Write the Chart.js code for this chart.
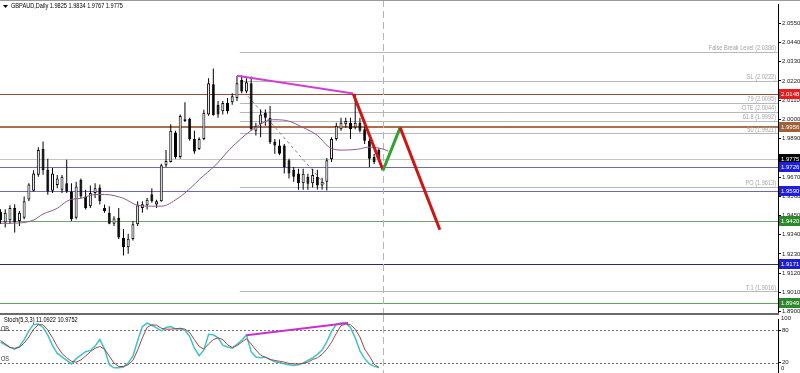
<!DOCTYPE html>
<html>
<head>
<meta charset="utf-8">
<script src="https://cdn.jsdelivr.net/npm/chart.js@4.4.0/dist/chart.umd.min.js"></script>
<style>
html,body{margin:0;padding:0;background:#fff;overflow:hidden}
#wrap{position:relative;width:800px;height:373px;overflow:hidden;background:#fff}
#main{position:absolute;left:0;top:0}
#sep{position:absolute;left:0;top:313px;width:779px;height:2px;background:#6a6a6a}
#stoch{position:absolute;left:0;top:315px}
</style>
</head>
<body>
<div id="wrap">
  <canvas id="main" width="800" height="317"></canvas>
  <div id="sep"></div>
  <canvas id="stoch" width="800" height="63"></canvas>
</div>
<script>
// GBPAUD daily candles (bar 0 = leftmost)
var candleOpen  = [1.9471,1.9409,1.9422,1.9493,1.9418,1.9437,1.9542,1.9591,1.9683,1.9831,
                   1.9711,1.9591,1.9625,1.9597,1.9634,1.9587,1.9437,1.9655,1.9559,1.9503,
                   1.9578,1.9610,1.9493,1.9465,1.9403,1.9437,1.9321,1.9268,1.9315,1.9400,
                   1.9493,1.9508,1.9572,1.9512,1.9531,1.9737,1.9756,1.9925,1.9784,2.0000,
                   2.0004,1.9887,1.9831,1.9887,2.0028,2.0201,2.0084,2.0047,2.0094,2.0098,
                   2.0122,2.0225,2.0160,2.0207,1.9935,1.9972,2.0038,2.0009,1.9874,1.9850,
                   1.9850,1.9766,1.9711,1.9690,1.9634,1.9672,1.9634,1.9672,1.9621,1.9643,
                   1.9771,1.9887,1.9944,1.9972,1.9981,1.9953,1.9981,1.9944,1.9878,1.9784,1.9825]
var candleHigh  = [1.9486,1.9486,1.9508,1.9514,1.9475,1.9559,1.9634,1.9709,1.9841,1.9874,
                   1.9775,1.9722,1.9681,1.9681,1.9769,1.9634,1.9643,1.9662,1.9597,1.9621,
                   1.9634,1.9627,1.9512,1.9503,1.9446,1.9493,1.9373,1.9345,1.9418,1.9531,
                   1.9531,1.9550,1.9606,1.9540,1.9746,1.9824,1.9972,1.9935,2.0028,2.0098,
                   2.0009,1.9935,1.9897,2.0055,2.0235,2.0291,2.0105,2.0105,2.0122,2.0150,
                   2.0248,2.0252,2.0235,2.0246,1.9981,2.0056,2.0056,2.0077,1.9887,1.9885,
                   1.9859,1.9775,1.9728,1.9718,1.9718,1.9688,1.9718,1.9711,1.9666,1.9779,
                   1.9897,1.9981,2.0009,2.0009,2.0009,2.0141,2.0009,1.9964,1.9887,1.9803,1.9834]
var candleLow   = [1.9401,1.9381,1.9401,1.9352,1.9390,1.9428,1.9531,1.9587,1.9672,1.9683,
                   1.9569,1.9578,1.9606,1.9578,1.9578,1.9418,1.9428,1.9550,1.9484,1.9493,
                   1.9550,1.9512,1.9465,1.9400,1.9390,1.9315,1.9221,1.9231,1.9306,1.9390,
                   1.9465,1.9484,1.9522,1.9493,1.9528,1.9728,1.9753,1.9775,1.9775,1.9985,
                   1.9878,1.9803,1.9824,1.9880,2.0021,2.0021,2.0009,2.0028,2.0032,2.0083,
                   2.0105,2.0150,2.0150,1.9935,1.9908,1.9897,1.9964,1.9859,1.9803,1.9795,
                   1.9690,1.9662,1.9643,1.9597,1.9597,1.9597,1.9610,1.9598,1.9597,1.9593,
                   1.9756,1.9878,1.9935,1.9953,1.9887,1.9944,1.9925,1.9859,1.9728,1.9745,1.9767]
var candleClose = [1.9422,1.9465,1.9493,1.9409,1.9465,1.9531,1.9627,1.9690,1.9824,1.9709,
                   1.9587,1.9690,1.9662,1.9672,1.9587,1.9428,1.9615,1.9559,1.9493,1.9578,
                   1.9606,1.9531,1.9475,1.9403,1.9433,1.9324,1.9268,1.9317,1.9400,1.9508,
                   1.9514,1.9540,1.9531,1.9531,1.9737,1.9762,1.9935,1.9784,2.0019,1.9991,
                   1.9887,1.9816,1.9887,2.0038,2.0207,2.0025,2.0028,2.0094,2.0047,2.0132,
                   2.0207,2.0160,2.0212,1.9944,1.9963,2.0028,2.0009,1.9869,1.9850,1.9803,
                   1.9728,1.9690,1.9672,1.9634,1.9688,1.9632,1.9681,1.9621,1.9643,1.9766,
                   1.9887,1.9963,1.9981,1.9991,1.9944,1.9981,1.9935,1.9878,1.9775,1.9756,1.9775]

// moving average, sampled where it could be read
var maBar   = [0,4,7,9,12,14,15,17,20,22,26,29,32,34,37.5,40.5,42,45.5,48.5,53,57.5,60.5,64,67,69.5,72,75.5,78,81,82]
var maPrice = [1.9405,1.9407,1.9424,1.9458,1.9491,1.9531,1.9542,1.9548,1.9570,1.9570,1.9548,1.9508,1.9503,1.9503,1.9548,
               1.9615,1.9655,1.9739,1.9829,1.9936,1.9998,1.9993,1.9953,1.9908,1.9841,1.9824,1.9829,1.9841,1.9829,1.9818]

// Stoch(5,3,3)
var stochK = [58.0,53.2,48.4,45.1,50.0,62.9,79.0,91.1,91.9,85.5,
              71.0,51.6,37.1,30.6,24.1,17.7,27.4,33.8,40.3,42.7,
              50.8,62.9,45.1,16.1,10.4,10.4,12.0,19.3,32.2,61.3,
              87.1,93.5,89.5,84.7,79.0,85.5,87.1,82.7,82.7,80.1,
              68.5,46.7,33.0,43.5,72.6,71.8,66.1,52.4,49.2,46.7,
              54.0,61.3,71.8,40.3,30.6,29.0,30.6,26.2,21.7,20.1,
              17.7,16.1,14.5,16.1,19.3,24.1,29.0,35.4,43.5,58.8,
              78.2,91.1,93.5,93.5,85.5,66.1,41.9,27.4,17.7,13.0,11.1]
var stochD = [61.3,54.8,48.4,46.7,48.4,56.4,67.7,82.2,90.3,90.3,
              80.6,66.1,50.0,37.1,29.0,22.5,20.9,25.0,32.2,40.3,
              46.7,50.0,45.1,32.2,19.3,12.8,12.8,16.1,24.1,43.5,
              66.1,85.5,90.3,89.5,83.9,82.2,82.2,83.1,83.9,82.2,
              75.8,62.9,50.0,45.1,54.8,62.9,66.1,62.9,53.2,48.4,
              51.6,58.0,64.5,54.8,43.5,33.8,29.8,25.8,24.1,22.5,
              20.9,18.5,17.7,17.7,18.5,20.9,25.8,29.0,35.4,45.1,
              58.0,74.2,88.7,91.9,90.3,82.2,67.7,45.1,32.2,17.0,11.0]

var priceTicks = [2.0550,2.0440,2.0330,2.0220,2.0110,2.0000,1.9890,1.9780,1.9670,1.9560,1.9450,1.9340,1.9230,1.9120,1.9010,1.8900]
var stochTicks = [80, 20]

// horizontal lines across the whole chart
var lineLevels = [2.0148, 1.9956, 1.9775, 1.9726, 1.9590, 1.9420, 1.9171, 1.8949]
// fibonacci levels (start at fibStartBar)
var fibNames  = ['False Break Level','SL','79','OTE','61.8','50','PO','T.1']
var fibLevels = [2.0386, 2.0222, 2.0095, 2.0044, 1.9992, 1.9921, 1.9613, 1.9016]
var fibStartBar = 50.6
var fibDiagBar = [52.3, 69.0], fibDiagPrice = [2.0133, 1.9615]

// drawn lines
var divBar = [50.0, 74.6], divPrice = [2.0250, 2.0148]
var projBar = [74.6, 80.9, 84.5, 92.9], projPrice = [2.0145, 1.9709, 1.9953, 1.9368]
var stochDivBar = [52.0, 73.5], stochDivValue = [71.0, 93.6]
var shiftBar = 80.8

var headText = 'GBPAUD,Daily 1.9825 1.9834 1.9767 1.9775'
var stochText = 'Stoch(5,3,3) 11.0922 10.9752'

// styles
var lineColors = ['#9b4a3c','#a8704c','#c4c4c4','#6d6dae','#6a6ab4','#6aa86a','#2a2a6a','#5ea65e']
var lineWidths = [1,2,1,1,1,1,1,1]
var boxColors  = ['#e81c1c','#a0603a','#000000','#1e1ee0','#1e1ee0','#2a8a2a','#1e1ed0','#2a8a2a']

var X_MIN = -0.106, X_MAX = 164.4
var FONT = "'Liberation Sans',Arial,sans-serif"
Chart.defaults.font.family = FONT

function pts(xs, ys){ return xs.map(function(v,i){ return {x:v, y:ys[i]} }) }

var bodies = candleOpen.map(function(o,i){ return {x:i, y:[o, candleClose[i]]} })
var wicks = candleHigh.map(function(h,i){ return {x:i, y:[candleLow[i], h]} })

function hline(ctx, x1, x2, y, color, w, dash){
    ctx.save()
    ctx.strokeStyle = color
    ctx.lineWidth = w
    ctx.setLineDash(dash || [])
    var yy = w % 2 ? Math.round(y) + 0.5 : Math.round(y)
    ctx.beginPath(); ctx.moveTo(x1, yy); ctx.lineTo(x2, yy); ctx.stroke()
    ctx.restore()
}
function vline(chart){
    var ctx = chart.ctx
    var px = Math.round(chart.scales.x.getPixelForValue(shiftBar)) + 0.5
    ctx.save()
    ctx.strokeStyle = '#b8b89c'
    ctx.setLineDash([7,4])
    ctx.beginPath(); ctx.moveTo(px, 0); ctx.lineTo(px, chart.height); ctx.stroke()
    ctx.restore()
}
// narrow text: 7px font squeezed horizontally
function narrowText(ctx, s, x, y, align){
    ctx.save()
    ctx.font = '7px ' + FONT
    ctx.textAlign = align || 'left'
    ctx.translate(x, y)
    ctx.scale(0.8, 1)
    ctx.fillText(s, 0, 0)
    ctx.restore()
}

var mainDeco = {
    id: 'mainDeco',
    beforeDatasetsDraw: function(chart){
        var ctx = chart.ctx, a = chart.chartArea, x = chart.scales.x, y = chart.scales.y
        var fx = x.getPixelForValue(fibStartBar)
        fibLevels.forEach(function(v){ hline(ctx, fx, a.right, y.getPixelForValue(v), '#b8b8b8', 1) })
        lineLevels.forEach(function(v,i){ hline(ctx, a.left, a.right, y.getPixelForValue(v), lineColors[i], lineWidths[i]) })
        vline(chart)
    },
    afterDraw: function(chart){
        var ctx = chart.ctx, a = chart.chartArea, y = chart.scales.y
        ctx.save()
        // fib labels
        ctx.fillStyle = '#a4a4a4'
        ctx.textBaseline = 'bottom'
        fibLevels.forEach(function(v,i){
            narrowText(ctx, fibNames[i] + ' (' + v.toFixed(4) + ')', a.right - 2, y.getPixelForValue(v), 'right')
        })
        // price boxes on the axis
        ctx.font = '6px ' + FONT
        ctx.textAlign = 'left'
        ctx.textBaseline = 'middle'
        lineLevels.forEach(function(v,i){
            var py = Math.round(y.getPixelForValue(v))
            ctx.fillStyle = boxColors[i]
            ctx.fillRect(a.right + 1, py - 5, 22, 10)
            ctx.fillStyle = '#fff'
            ctx.fillText(v.toFixed(4), a.right + 3, py + 0.5)
        })
        // header
        ctx.fillStyle = '#000'
        ctx.beginPath(); ctx.moveTo(3,5); ctx.lineTo(8,5); ctx.lineTo(5.5,8); ctx.closePath(); ctx.fill()
        ctx.textBaseline = 'middle'
        narrowText(ctx, headText, 11, 6.5)
        // top frame
        ctx.fillStyle = '#9a9a9a'
        ctx.fillRect(0, 0, 800, 1)
        ctx.restore()
    }
}

new Chart(document.getElementById('main'), {
    type: 'bar',
    data: {
        datasets: [{
            type: 'line',
            data: pts(projBar, projPrice),
            borderColor: '#d01414',
            segment: { borderColor: function(c){ return c.p0DataIndex === 1 ? '#2ea52e' : '#d01414' } },
            borderWidth: 3,
            pointRadius: 0,
            order: 0
        }, {
            type: 'line',
            data: pts(divBar, divPrice),
            borderColor: '#d040d0',
            borderWidth: 2,
            pointRadius: 0,
            order: 1
        }, {
            type: 'line',
            data: pts(maBar, maPrice),
            borderColor: '#8c5c8c',
            borderWidth: 1,
            pointRadius: 0,
            cubicInterpolationMode: 'monotone',
            order: 2
        }, {
            data: bodies,
            grouped: false,
            barThickness: 3,
            backgroundColor: function(c){ return c.raw && c.raw.y[1] >= c.raw.y[0] ? '#ffffff' : '#000000' },
            borderColor: '#000',
            borderWidth: 1,
            borderSkipped: false,
            inflateAmount: 0,
            order: 3
        }, {
            data: wicks,
            grouped: false,
            barThickness: 1,
            backgroundColor: '#000',
            inflateAmount: 0,
            order: 4
        }, {
            type: 'line',
            data: pts(fibDiagBar, fibDiagPrice),
            borderColor: '#9a7a7a',
            borderDash: [3,3],
            borderWidth: 1,
            pointRadius: 0,
            order: 5
        }]
    },
    options: {
        responsive: false,
        animation: false,
        events: [],
        layout: { padding: { left: 0, right: 0, top: 0, bottom: 4 }, autoPadding: false },
        plugins: { legend: { display: false }, tooltip: { enabled: false } },
        scales: {
            x: { type: 'linear', min: X_MIN, max: X_MAX, offset: false, display: false },
            y: {
                position: 'right',
                min: 1.8895,
                max: 2.0657,
                afterFit: function(s){ s.width = 22 },
                afterBuildTicks: function(s){ s.ticks = priceTicks.map(function(v){ return {value:v} }) },
                ticks: { callback: function(v){ return v.toFixed(4) }, font: { size: 6 }, color: '#202020', padding: 1, autoSkip: false, maxRotation: 0 },
                grid: { drawOnChartArea: false, drawTicks: true, tickLength: 3, color: '#000' },
                border: { display: true, color: '#000' }
            }
        }
    },
    plugins: [mainDeco]
})

var stochDeco = {
    id: 'stochDeco',
    beforeDatasetsDraw: function(chart){
        var ctx = chart.ctx, a = chart.chartArea, y = chart.scales.y
        stochTicks.forEach(function(v){ hline(ctx, a.left, a.right, y.getPixelForValue(v), '#707070', 1, [2,2]) })
        vline(chart)
    },
    afterDraw: function(chart){
        var ctx = chart.ctx, a = chart.chartArea, y = chart.scales.y
        ctx.save()
        ctx.fillStyle = '#303030'
        ctx.textBaseline = 'middle'
        narrowText(ctx, 'OB', 1, y.getPixelForValue(80) - 1)
        narrowText(ctx, 'OS', 1, y.getPixelForValue(20) - 4)
        ctx.fillStyle = '#000'
        narrowText(ctx, stochText, 4, 5)
        ctx.font = '6px ' + FONT
        ctx.fillStyle = '#202020'
        ctx.textAlign = 'left'
        ctx.textBaseline = 'top'
        ctx.fillText('100', a.right + 3, 0)
        ctx.textBaseline = 'middle'
        ctx.fillText('0', a.right + 3, y.getPixelForValue(0) - 5)
        ctx.restore()
    }
}

new Chart(document.getElementById('stoch'), {
    type: 'line',
    data: {
        datasets: [{
            data: pts(stochDivBar, stochDivValue),
            borderColor: '#cc30cc',
            borderWidth: 2,
            pointRadius: 0
        }, {
            data: stochD.map(function(v,i){ return {x:i, y:v} }),
            borderColor: '#a04840',
            borderWidth: 1,
            pointRadius: 0
        }, {
            data: stochK.map(function(v,i){ return {x:i, y:v} }),
            borderColor: '#3fc3cb',
            borderWidth: 1.5,
            pointRadius: 0
        }]
    },
    options: {
        responsive: false,
        animation: false,
        events: [],
        layout: { padding: 0, autoPadding: false },
        plugins: { legend: { display: false }, tooltip: { enabled: false } },
        scales: {
            x: { type: 'linear', min: X_MIN, max: X_MAX, offset: false, display: false },
            y: {
                position: 'right',
                min: 0,
                max: 100,
                afterFit: function(s){ s.width = 22 },
                afterBuildTicks: function(s){ s.ticks = stochTicks.map(function(v){ return {value:v} }) },
                ticks: { font: { size: 6 }, color: '#202020', padding: 1, autoSkip: false, maxRotation: 0 },
                grid: { drawOnChartArea: false, drawTicks: true, tickLength: 3, color: '#000' },
                border: { display: true, color: '#000' }
            }
        }
    },
    plugins: [stochDeco]
})
</script>
</body>
</html>
